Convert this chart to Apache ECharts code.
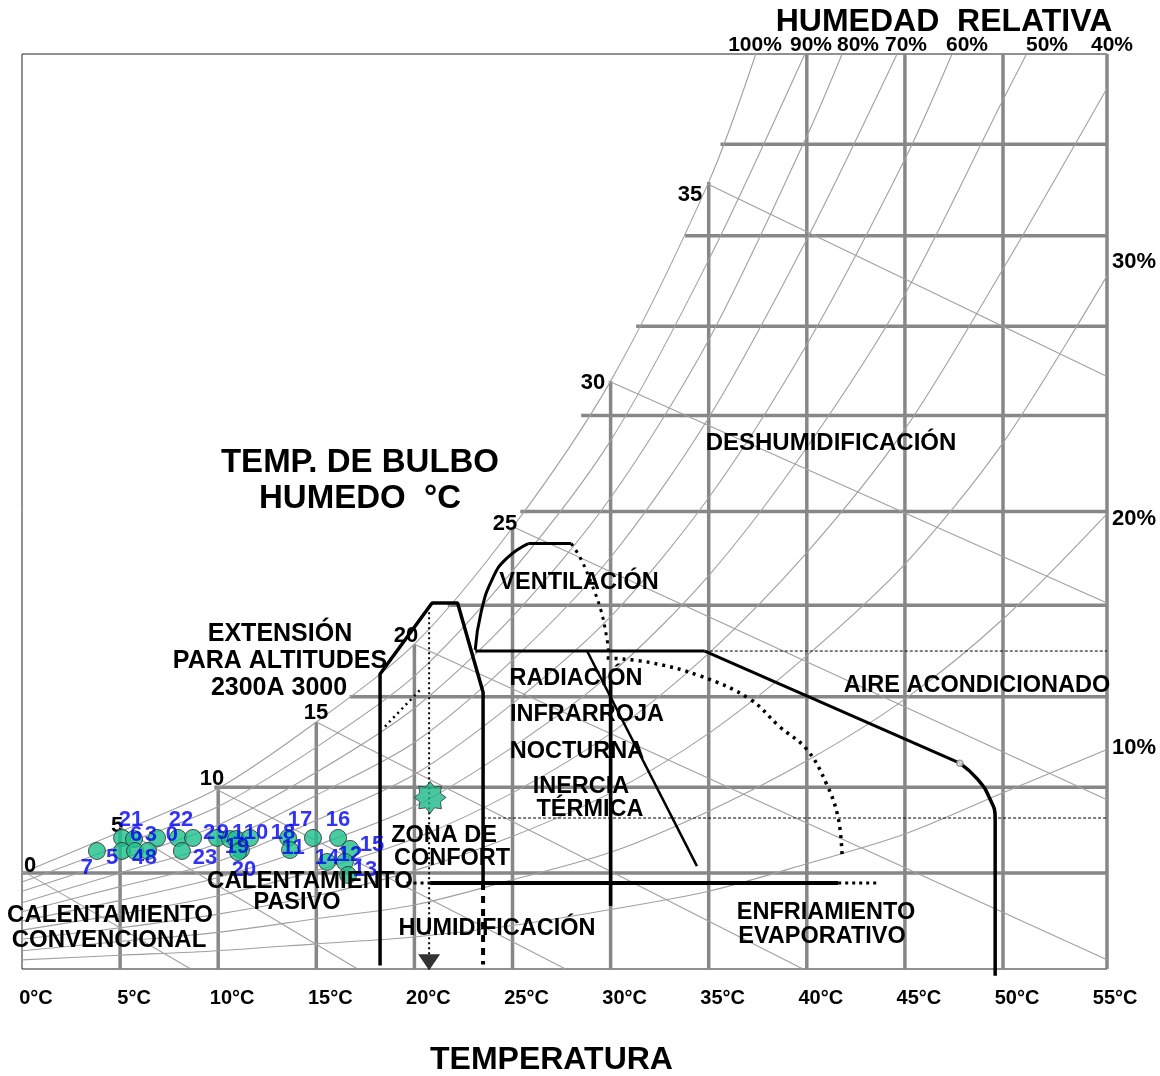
<!DOCTYPE html>
<html><head><meta charset="utf-8">
<script src="https://cdn.jsdelivr.net/npm/echarts@6/dist/echarts.min.js"></script>
<style>html,body{margin:0;padding:0;background:#fff}#c{width:1160px;height:1076px}</style>
</head><body><div id="c"></div>
<script>
// ---------------- DATA (temperature °C, humidity ratio g/kg) ----------------
const xTickValues = [0,5,10,15,20,25,30,35,40,45,50,55];
const xTickLabels = ['0°C','5°C','10°C','15°C','20°C','25°C','30°C','35°C','40°C','45°C','50°C','55°C'];

// saturation (100%) curve
const satCurve = [[0,4.2],[5,6.0],[10,7.9],[15,10.8],[20,14.2],[25,19.3],[30,25.7],[35,34.4],[37.4,40]];
// relative humidity curves
const rh90 = [[0,3.8],[5,5.4],[10,7.1],[15,9.7],[20,12.8],[25,17.4],[30,23.1],[35,31.0],[39.9,40]];
const rh80 = [[0,3.4],[5,4.8],[10,6.3],[15,8.6],[20,11.4],[25,15.4],[30,20.6],[35,27.5],[40,36.4],[41.8,40]];
const rh70 = [[0,2.9],[5,4.2],[10,5.5],[15,7.6],[20,9.9],[25,13.5],[30,18.0],[35,24.1],[40,31.9],[44.6,40]];
const rh60 = [[0,2.5],[5,3.6],[10,4.7],[15,6.5],[20,8.5],[25,11.6],[30,15.4],[35,20.6],[40,27.3],[45,35.4],[47.4,40]];
const rh50 = [[0,2.1],[5,3.0],[10,4.0],[15,5.4],[20,7.1],[25,9.7],[30,12.9],[35,17.2],[40,22.8],[45,29.5],[50,38.0],[51.2,40]];
const rh40 = [[0,1.7],[5,2.4],[10,3.2],[15,4.3],[20,5.7],[25,7.7],[30,10.3],[35,13.8],[40,18.2],[45,23.6],[50,30.6],[55.3,38.5]];
const rh30 = [[0,1.3],[5,1.8],[10,2.4],[15,3.2],[20,4.3],[25,5.8],[30,7.7],[35,10.3],[40,13.7],[45,17.7],[50,23.0],[55.3,30.3]];
const rh20 = [[0,0.8],[5,1.2],[10,1.6],[15,2.2],[20,2.8],[25,3.9],[30,5.1],[35,6.9],[40,9.1],[45,11.8],[50,15.3],[55.3,19.9]];
const rh10 = [[0,0.4],[5,0.6],[10,0.8],[15,1.1],[20,1.4],[25,1.9],[30,2.6],[35,3.4],[40,4.6],[45,5.9],[50,7.7],[55.3,9.6]];

// wet bulb lines: start on saturation, end on border
const wetBulbLabels = ['0','5','10','15','20','25','30','35'];
const wetBulbStart = [[0,4.3],[5,6.2],[9.8,7.9],[15,10.8],[20,14.2],[25.1,19.3],[29.9,25.7],[35,34.3]];
const wetBulbEnd   = [[8.6,0],[17.1,0],[27.7,0],[39.8,0],[55.3,0.4],[55.3,7.4],[55.3,16.0],[55.3,25.9]];

// grid lines (clipped at saturation)
const vGridT   = [5,10,15,20,25,30,35,40,45,50];
const vGridTop = [6.1,7.9,10.8,14.2,19.3,25.7,34.4,40,40,40];
const hGridW     = [4.2,7.95,11.9,15.9,20,24.2,28.1,32.05,36.05];
const hGridStart = [0,9.8,16.7,21.7,25.4,28.5,31.3,33.8,35.6];

// strategy zones (black lines)
const comfortZone    = [[18.25,0.15],[18.25,12.9],[20.9,16.0],[22.2,16.0],[23.5,12.1],[23.5,3.76]];
const comfortDashed  = [[23.5,3.76],[23.5,0.2]];
const altitudeDotted = [[18.5,10.6],[20.4,12.3]];
const centerDotted   = [[20.75,15.6],[20.75,0.6]];
const ventArc        = [[23.1,13.95],[23.4,15.6],[24.0,17.1],[24.7,17.95],[25.8,18.6]];
const ventTop        = [[25.8,18.6],[28.0,18.6]];
const ventDotted     = [[28.0,18.6],[28.5,17.9],[29.0,16.9],[29.5,15.7],[29.8,14.5],[29.9,13.8]];
const radiationTop   = [[23.1,13.9],[34.8,13.9]];
const radiationDash  = [[34.8,13.9],[55.3,13.9]];
const inertiaDash    = [[23.5,6.6],[55.3,6.6]];
const radiationDiag  = [[28.8,13.9],[34.4,4.5]];
const radiationVert  = [[30.0,12.6],[30.0,2.75]];
const evapDotted     = [[29.8,13.6],[32.0,13.4],[34.6,12.8],[37.1,11.8],[38.6,10.6],[40.0,9.6],[41.0,8.1],[41.6,6.6],[41.8,4.9]];
const acLine         = [[34.8,13.9],[47.8,9.0]];
const acCurve        = [[47.8,9.0],[48.7,8.3],[49.3,7.5],[49.6,6.6],[49.6,-0.3]];
const humidLine      = [[20.8,3.76],[41.6,3.76]];
const humidDotR      = [[41.6,3.76],[43.6,3.76]];
const humidDotL      = [[19.6,3.76],[20.8,3.76]];
const comfortPoint   = [[20.8,7.5]];
const arrowPoint     = [[20.75,0.3]];
const acKnot         = [[47.8,9.0]];

// hourly climate records with their hour numbers
const pointLbl = ['7','21','5','6','3','4','8','0','23','22','2','9','1','10','19','20','18','11','17','16','15','14','12','13'];
const pointT   = [3.82,5.10,5.10,5.71,6.88,5.76,6.42,7.95,8.15,8.72,9.94,10.60,10.91,11.62,11.16,11.01,13.56,13.66,14.83,16.11,16.72,15.55,16.46,16.62];
const pointW   = [5.16,5.73,5.16,5.68,5.73,5.16,5.16,5.73,5.16,5.73,5.73,5.68,5.68,5.73,5.20,5.11,5.73,5.20,5.73,5.73,5.25,4.68,4.68,4.11];

// ---------------- LAYOUT ----------------
const labelOffsets = [[-10,17],[9,-18],[-10,7],[2,-4],[-6,-3],[3,7],[3,7],[-6,-3],[23,7],[-12,-18],[-8,-5],[-7,-6],[2,-6],[6,-5],[-4,-3],[6,18],[-5,-5],[3,-2],[-13,-18],[0,-18],[22,-4],[0,-4],[5,-7],[17,-5]];

const FONT = '"Liberation Sans", Arial, sans-serif';
const GRIDC = '#878787', CURVEC = '#a0a0a0';

function line(data, color, width, extra) {
  return Object.assign({
    type:'line', data:data, symbol:'none', silent:true, animation:false,
    lineStyle:{color:color, width:width}, z:2
  }, extra || {});
}
const series = [];
vGridT.forEach((t,i)=>series.push(line([[t,0],[t,vGridTop[i]]], GRIDC, 3.5)));
hGridW.forEach((w,i)=>series.push(line([[hGridStart[i],w],[55.3,w]], GRIDC, 3.5)));
series.push(line([[55.3,0],[55.3,40]], GRIDC, 3.5));
[satCurve,rh90,rh80,rh70,rh60,rh50,rh40,rh30,rh20,rh10].forEach(c=>series.push(line(c, CURVEC, 1.1, {smooth:0.3, z:3})));
wetBulbStart.forEach((s,i)=>series.push(line([s, wetBulbEnd[i]], CURVEC, 1.1, {z:3})));
const K = '#000';
series.push(line(comfortZone, K, 3.5, {z:5}));
series.push(line(comfortDashed, K, 4, {z:5, lineStyle:{color:K,width:4,type:[7,6]}}));
series.push(line(altitudeDotted, K, 2.5, {z:5, lineStyle:{color:K,width:2.5,type:[2,4]}}));
series.push(line(centerDotted, K, 2, {z:5, lineStyle:{color:K,width:2,type:[2,3]}}));
series.push(line(ventArc, K, 3, {z:5, smooth:0.5}));
series.push(line(ventTop, K, 3, {z:5}));
series.push(line(ventDotted, K, 3, {z:5, smooth:0.4, lineStyle:{color:K,width:3,type:[3,5]}}));
series.push(line(radiationTop, K, 3, {z:5}));
series.push(line(radiationDash, K, 1, {z:5, lineStyle:{color:K,width:1,type:[3,2]}}));
series.push(line(inertiaDash, K, 1, {z:5, lineStyle:{color:K,width:1,type:[3,2]}}));
series.push(line(radiationDiag, K, 2.5, {z:5}));
series.push(line(radiationVert, K, 3.5, {z:5}));
series.push(line(evapDotted, K, 3.5, {z:5, smooth:0.4, lineStyle:{color:K,width:3.5,type:[3,5]}}));
series.push(line(acLine, K, 3, {z:5}));
series.push(line(acCurve, K, 3.5, {z:5, smooth:0.5, clip:false}));
series.push(line(humidLine, K, 4, {z:5}));
series.push(line(humidDotR, K, 3, {z:5, lineStyle:{color:K,width:3,type:[3,4]}}));
series.push(line(humidDotL, K, 3, {z:5, lineStyle:{color:K,width:3,type:[3,4]}}));
series.push({type:'scatter', data:acKnot, symbol:'circle', symbolSize:6, silent:true, animation:false, z:6,
  itemStyle:{color:'#fff', borderColor:'#888', borderWidth:1.5}});
series.push({type:'scatter', data:arrowPoint, symbol:'triangle', symbolRotate:180, symbolSize:[22,16], silent:true, animation:false, z:6,
  itemStyle:{color:'#000'}});
let starPath = 'path://';
for (let k=0;k<16;k++){ const r = k%2===0?50:35; const a = -Math.PI/2 + k*Math.PI/8;
  starPath += (k===0?'M':'L') + (50+r*Math.cos(a)).toFixed(2) + ' ' + (50+r*Math.sin(a)).toFixed(2) + ' '; }
starPath += 'Z';
series.push({type:'scatter', data:comfortPoint, symbol:starPath, symbolSize:32, silent:true, animation:false, z:7,
  itemStyle:{color:'#1bb888', borderColor:'#333', borderWidth:1}});
series.push({type:'scatter', silent:true, animation:false, z:8, symbol:'circle', symbolSize:17,
  itemStyle:{color:'#1dbf8c', borderColor:'#2a2a2a', borderWidth:1},
  data: pointT.map((t,i)=>({value:[t,pointW[i]], label:{offset:labelOffsets[i]}})),
  label:{show:true, position:'inside', formatter:p=>pointLbl[p.dataIndex], color:'#0000f0', fontSize:22, fontWeight:'bold', fontFamily:FONT}
});

function txt(s, x, y, size, z) {
  return {type:'text', x:x, y:y, z:(z===undefined?50:z), silent:true,
    style:{text:s, fill:'#000', font:'bold '+size+'px '+FONT, align:'center', verticalAlign:'middle', textAlign:'center', textVerticalAlign:'middle'}};
}
const A = 23.5;
const graphics = [
  txt('HUMEDAD  RELATIVA', 944, 22, 32),
  txt('100%', 755, 45, 21), txt('90%', 811, 45, 21), txt('80%', 858, 45, 21), txt('70%', 906, 45, 21),
  txt('60%', 967, 45, 21), txt('50%', 1047, 45, 21), txt('40%', 1112, 45, 21),
  txt('30%', 1134, 262, 22), txt('20%', 1134, 519, 22), txt('10%', 1134, 748, 22),
  txt('TEMP. DE BULBO', 360, 463, 33), txt('HUMEDO  °C', 360, 499, 33),
  txt('DESHUMIDIFICACIÓN', 831, 443, 24),
  txt('VENTILACIÓN', 579, 583, A),
  txt('EXTENSIÓN', 280, 634, 25), txt('PARA ALTITUDES', 280, 661, 25), txt('2300A 3000', 279, 688, 25),
  txt('RADIACIÓN', 576, 679, A), txt('INFRARROJA', 587, 715, A), txt('NOCTURNA', 577, 752, A),
  txt('INERCIA', 581, 787, A), txt('TÉRMICA', 590, 810, A),
  txt('AIRE ACONDICIONADO', 977, 686, A),
  txt('ZONA DE', 444, 836, A), txt('CONFORT', 452, 859, A),
  txt('CALENTAMIENTO', 310, 881, 24), txt('PASIVO', 297, 903, A),
  txt('CALENTAMIENTO', 110, 915, 24), txt('CONVENCIONAL', 109, 940, 24),
  txt('HUMIDIFICACIÓN', 497, 929, A),
  txt('ENFRIAMIENTO', 826, 913, A), txt('EVAPORATIVO', 822, 937, A),
  txt(wetBulbLabels[0], 30, 866, 22), txt(wetBulbLabels[1], 117, 826, 22, 0), txt(wetBulbLabels[2], 212, 779, 22),
  txt(wetBulbLabels[3], 316, 713, 22), txt(wetBulbLabels[4], 406, 636, 22), txt(wetBulbLabels[5], 505, 524, 22),
  txt(wetBulbLabels[6], 593, 383, 22), txt(wetBulbLabels[7], 690, 195, 22)
];

const chart = echarts.init(document.getElementById('c'), null, {renderer:'canvas'});
chart.setOption({
  backgroundColor:'#fff',
  animation:false,
  grid:{left:22, right:53, top:54, bottom:107, containLabel:false, outerBoundsMode:'none',
    show:true, borderColor:'#222', borderWidth:1, backgroundColor:'transparent'},
  xAxis:{type:'value', min:0, max:55.3, interval:5,
    axisLine:{show:false}, axisTick:{show:false}, splitLine:{show:false},
    axisLabel:{show:true, margin:19, padding:[0,0,0,28], fontFamily:FONT, fontWeight:'bold', fontSize:20, color:'#000',
      formatter:v=>{const i=xTickValues.indexOf(v); return i>=0?xTickLabels[i]:'';}},
    name:'TEMPERATURA', nameLocation:'middle', nameGap:75,
    nameTextStyle:{fontFamily:FONT, fontWeight:'bold', fontSize:32, color:'#000', padding:[0,26,0,0]}},
  yAxis:{type:'value', min:0, max:40, show:false, splitLine:{show:false}},
  series:series,
  graphic:graphics
});
</script></body></html>
